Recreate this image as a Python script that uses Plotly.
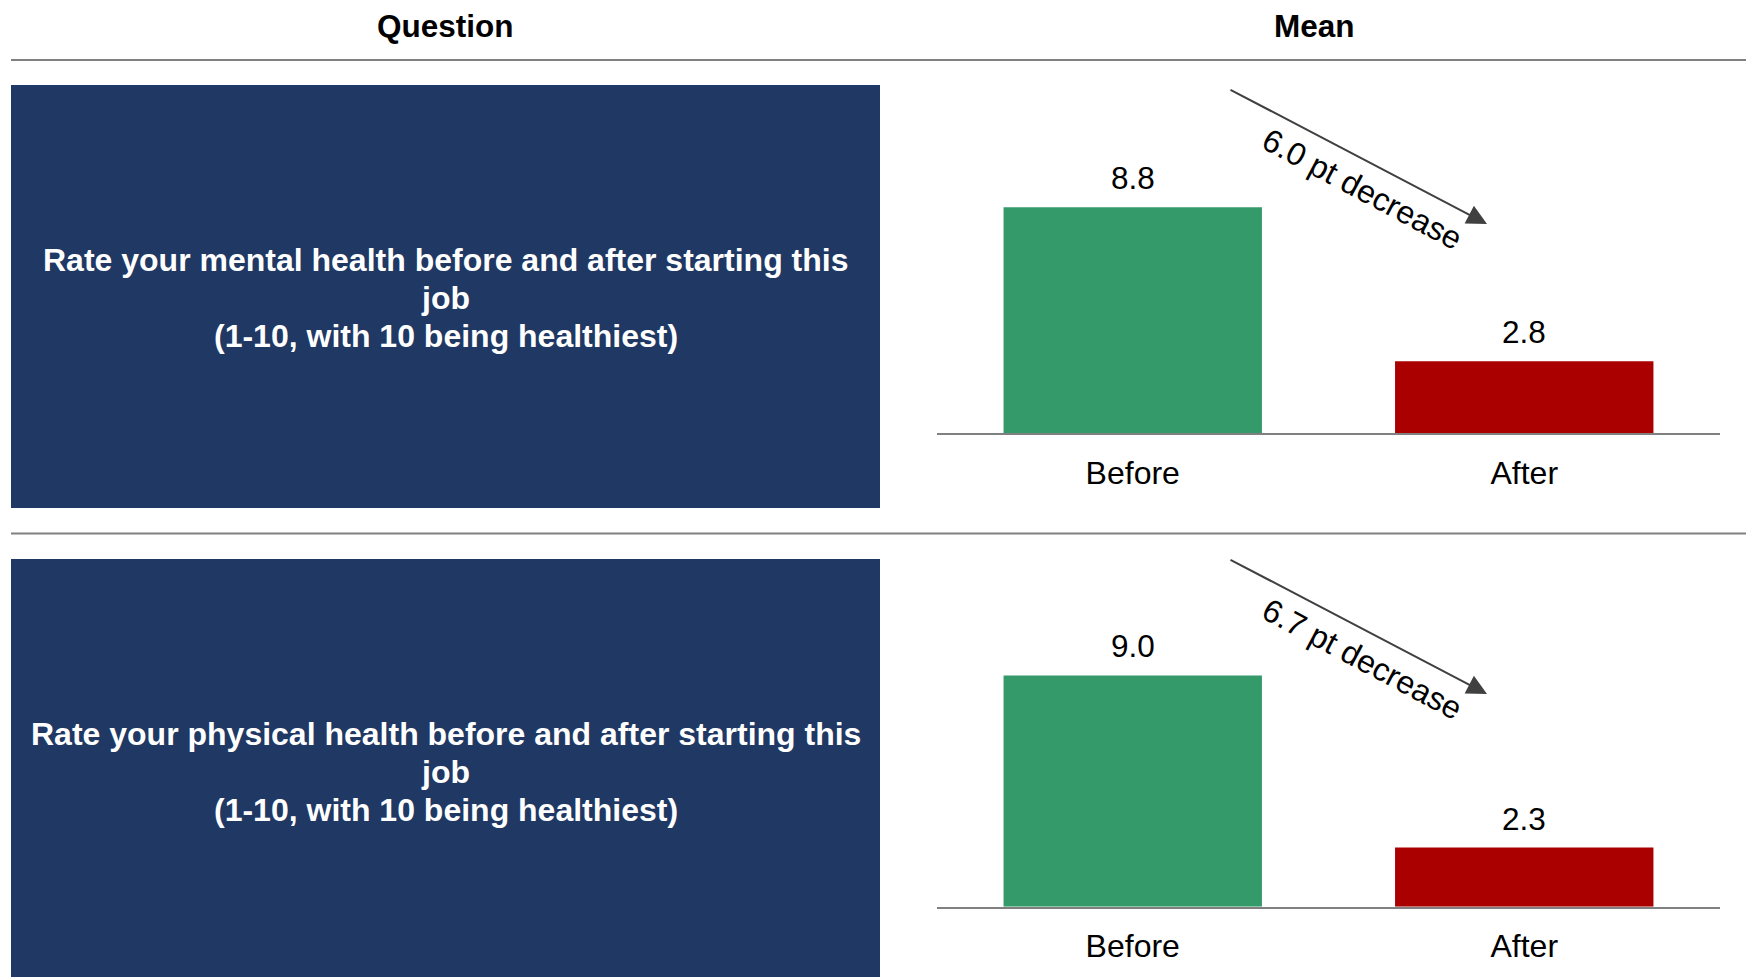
import plotly.graph_objects as go

# ---------------- data ----------------
categories = ["Before", "After"]
mental_means = [8.8, 2.8]
physical_means = [9.0, 2.3]
question_lines_mental = ["Rate your mental health before and after starting this", "job",
                         "(1-10, with 10 being healthiest)"]
question_lines_physical = ["Rate your physical health before and after starting this", "job",
                           "(1-10, with 10 being healthiest)"]
header_labels = ["Question", "Mean"]

# ---------------- style ----------------
W, H = 1754, 977
PAGE_OFF = 8  # default body margin of the html page
FONT = "Liberation Sans, Arial, sans-serif"
NAVY = "#203864"
GREEN = "#359A6A"
RED = "#AA0000"
GRAY = "#808080"
ARROW = "#404040"


def px_x(x):
    return (x - PAGE_OFF) / W


def px_y(y):
    return 1 - (y - PAGE_OFF) / H


fig = go.Figure()

# (values, xaxis, yaxis, vertical offset of the arrow/annotation block)
panels = [
    (mental_means, "x", "y", 0),
    (physical_means, "x2", "y2", 470),
]

for vals, xa, ya, off in panels:
    fig.add_trace(go.Bar(
        x=categories, y=vals, xaxis=xa, yaxis=ya,
        marker=dict(color=[GREEN, RED], line=dict(width=0)),
        width=0.66, showlegend=False, hoverinfo="skip",
    ))

Y_MAX = 14
PX_PER_UNIT = 25.7
x_dom = [px_x(937), px_x(1720)]
top_axis_y = 433.3
bot_axis_y = 906.7

axis_common = dict(
    type="category", range=[-0.5, 1.5], showline=True, linewidth=2, linecolor=GRAY,
    showgrid=False, zeroline=False, ticks="", ticklabelstandoff=10,
    tickfont=dict(family=FONT, size=32, color="black"), fixedrange=True,
)
yaxis_common = dict(range=[0, Y_MAX], visible=False, fixedrange=True)

fig.update_layout(
    width=W, height=H, margin=dict(l=0, r=0, t=0, b=0),
    paper_bgcolor="white", plot_bgcolor="rgba(0,0,0,0)",
    bargap=0.34,
    xaxis=dict(domain=x_dom, anchor="y", **axis_common),
    yaxis=dict(domain=[px_y(top_axis_y), px_y(top_axis_y - Y_MAX * PX_PER_UNIT)], anchor="x", **yaxis_common),
    xaxis2=dict(domain=x_dom, anchor="y2", **axis_common),
    yaxis2=dict(domain=[px_y(bot_axis_y), px_y(bot_axis_y - Y_MAX * PX_PER_UNIT)], anchor="x2", **yaxis_common),
)

shapes = []
annotations = []

# header texts and separator lines
for label, cx in zip(header_labels, [445, 1314]):
    annotations.append(dict(
        text=f"<b>{label}</b>", x=px_x(cx), y=px_y(26), xref="paper", yref="paper",
        xanchor="center", yanchor="middle", showarrow=False,
        font=dict(family=FONT, size=31.5, color="black"),
    ))
for ly in [60, 533.6]:
    shapes.append(dict(type="line", xref="paper", yref="paper",
                       x0=px_x(11), x1=px_x(1748), y0=px_y(ly), y1=px_y(ly),
                       line=dict(color=GRAY, width=2)))

# question boxes
for lines, off in [(question_lines_mental, 0), (question_lines_physical, 474)]:
    shapes.append(dict(type="rect", xref="paper", yref="paper",
                       x0=px_x(11), x1=px_x(880), y0=px_y(508 + off), y1=px_y(85 + off),
                       fillcolor=NAVY, line=dict(width=0), layer="below"))
    for i, line in enumerate(lines):
        annotations.append(dict(
            text=f"<b>{line}</b>", x=px_x(445.5), y=px_y(260 + 38 * i + off),
            xref="paper", yref="paper", xanchor="center", yanchor="middle",
            showarrow=False, font=dict(family=FONT, size=32, color="white"),
        ))

# value labels, arrows, decrease text
for vals, xa, ya, off in panels:
    for c, v in zip(categories, vals):
        annotations.append(dict(
            text=f"{v:.1f}", x=c, y=v, xref=xa, yref=ya, xanchor="center",
            yanchor="middle", yshift=29, showarrow=False,
            font=dict(family=FONT, size=31.5, color="black"),
        ))
    annotations.append(dict(
        text="", x=px_x(1487), y=px_y(224 + off), xref="paper", yref="paper",
        ax=1229 - 1487, ay=89 - 224, showarrow=True, arrowhead=2, arrowsize=2,
        arrowwidth=2, arrowcolor=ARROW, standoff=0,
    ))
    annotations.append(dict(
        text=f"{vals[0] - vals[1]:.1f} pt decrease", x=px_x(1362), y=px_y(189 + off),
        xref="paper", yref="paper", xanchor="center", yanchor="middle",
        textangle=28, showarrow=False, font=dict(family=FONT, size=32, color="black"),
    ))

fig.update_layout(shapes=shapes, annotations=annotations)
fig.write_html("out.html")
